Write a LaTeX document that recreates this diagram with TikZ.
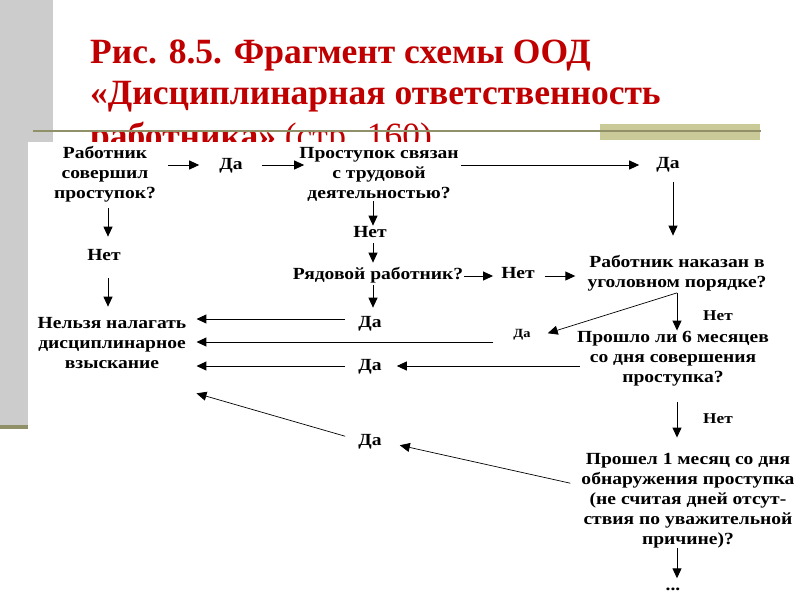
\documentclass[tikz,border=0pt]{standalone}
\usepackage{fontspec}
\setmainfont{Liberation Serif}
\newfontfamily\df[FakeStretch=1.15]{Liberation Serif}
\usetikzlibrary{arrows.meta,calc}
\definecolor{titlered}{RGB}{192,0,0}
\definecolor{bargray}{RGB}{204,204,204}
\definecolor{oliveline}{RGB}{145,145,105}
\definecolor{olivebox}{RGB}{202,202,152}
\begin{document}
\begin{tikzpicture}[x=1pt,y=-1pt,
  txt/.style={font=\df\bfseries\fontsize{17}{20}\selectfont, align=center, inner sep=0pt, anchor=base},
  smalltxt/.style={font=\df\bfseries\fontsize{12.5}{15}\selectfont, inner sep=0pt, anchor=base},
  lbl/.style={font=\df\bfseries\fontsize{15}{18}\selectfont, inner sep=0pt, anchor=base},
  ttl/.style={font=\rmfamily\bfseries\fontsize{35.5}{40}\selectfont, text=titlered, inner sep=0pt, anchor=base west},
  arr/.style={-{Triangle[length=10pt,width=9pt]}, line width=1pt},
  darr/.style={-{Triangle[length=10pt,width=9pt]}, line width=0.7pt},
]
\useasboundingbox (0,0) rectangle (800,600);
\fill[white] (0,0) rectangle (800,600);
\fill[bargray] (0,0) rectangle (53,425);
\fill[oliveline] (0,425) rectangle (53,429);
\fill[olivebox] (600,124) rectangle (760,140);
% title
\node[ttl] (t1) at (90,63) {Рис. 8.5. Фрагмент схемы ООД};
\node[ttl] (t2) at (90,104) {«Дисциплинарная ответственность};
\node[ttl] (t3) at (90,147) {работника» {\mdseries (стр. 160)}};
\draw[oliveline, line width=2pt] (33,131) -- (761,131);
% pasted picture
\fill[white] (28,142) rectangle (800,600);
% columns and rows
\coordinate (colA) at (108,0);
\coordinate (colB) at (373,0);
\coordinate (colC) at (677,0);
\coordinate (colD) at (673,0);
\coordinate (rowT) at (0,165);
\coordinate (rowR) at (0,276);
\coordinate (rowY1) at (0,319);
\coordinate (rowY2) at (0,342);
\coordinate (rowY3) at (0,366);
% nodes (multi-line nodes are placed by the baseline of their last line)
\node[txt] (A) at (105,198) {Работник\\совершил\\проступок?};
\node[txt] (da1) at (231,169) {Да};
\node[txt] (B) at (379,198) {Проступок связан\\с трудовой\\деятельностью?};
\node[txt] (da2) at (668,168) {Да};
\node[txt] (C) at (677,287) {Работник наказан в\\уголовном порядке?};
\node[txt] (net1) at (104,260) {Нет};
\node[txt] (net2) at (370,237) {Нет};
\node[txt] (R) at (378,279) {Рядовой работник?};
\node[txt] (net3) at (518,278) {Нет};
\node[txt] (N) at (112,368) {Нельзя налагать\\дисциплинарное\\взыскание};
\node[txt] (da3) at (370,327) {Да};
\node[smalltxt] (da4) at (522,337) {Да};
\node[txt] (da5) at (370,370) {Да};
\node[txt] (da6) at (370,445) {Да};
\node[lbl] (net4) at (718,320) {Нет};
\node[lbl] (net5) at (718,423) {Нет};
\node[txt] (P) at (673,382) {Прошло ли 6 месяцев\\со дня совершения\\проступка?};
\node[txt] (Q) at (688,544) {Прошел 1 месяц со дня\\обнаружения проступка\\(не считая дней отсут-\\ствия по уважительной\\причине)?};
\node[txt] (dots) at (673,590) {...};
% connectors
\draw[arr, shorten <=12pt, shorten >=20pt] (A.east |- rowT) -- (da1.west |- rowT);
\draw[arr, shorten <=19pt, shorten >=-5pt] (da1.east |- rowT) -- (B.west |- rowT);
\draw[arr, shorten <=2pt, shorten >=17pt] (B.east |- rowT) -- (da2.west |- rowT);
\draw[arr, shorten <=10pt, shorten >=19pt] (da2.south -| colD) -- (C.north -| colD);
\draw[arr, shorten <=6pt, shorten >=12pt] (A.south -| colA) -- (net1.north -| colA);
\draw[arr, shorten <=18pt, shorten >=10pt] (net1.south -| colA) -- (N.north -| colA);
\draw[arr] (B.south -| colB) -- (net2.north -| colB);
\draw[arr, shorten <=6pt, shorten >=4pt] (net2.south -| colB) -- (R.north -| colB);
\draw[arr, shorten <=1pt, shorten >=8pt] (R.east |- rowR) -- (net3.west |- rowR);
\draw[arr, shorten <=10pt, shorten >=12pt] (net3.east |- rowR) -- (C.west |- rowR);
\draw[arr, shorten <=2pt, shorten >=8pt] (R.south -| colB) -- (da3.north -| colB);
\draw[arr, shorten <=13pt, shorten >=10pt] (da3.west |- rowY1) -- (N.east |- rowY1);
\draw[darr] ($(C.south -| colC)+(0,2)$) -- ($(da4.east)+(17,-1)$);
\draw[arr, shorten <=20pt, shorten >=10pt] (da4.west |- rowY2) -- (N.east |- rowY2);
\draw[arr, shorten <=2pt] (C.south -| colC) -- (P.north -| colC);
\draw[arr, shorten <=-3pt, shorten >=15pt] (P.west |- rowY3) -- (da5.east |- rowY3);
\draw[arr, shorten <=13pt, shorten >=10pt] (da5.west |- rowY3) -- (N.east |- rowY3);
\draw[arr, shorten <=16pt, shorten >=15pt] (P.south -| colC) -- (Q.north -| colC);
\draw[darr] ($(Q.west)+(-11,-17)$) -- ($(da6.east)+(18,4)$);
\draw[darr] ($(da6.west)+(-13,-5)$) -- ($(N.south east)+(10,25)$);
\draw[arr, shorten >=9pt] (Q.south -| colC) -- (dots.north -| colC);
\end{tikzpicture}
\end{document}
